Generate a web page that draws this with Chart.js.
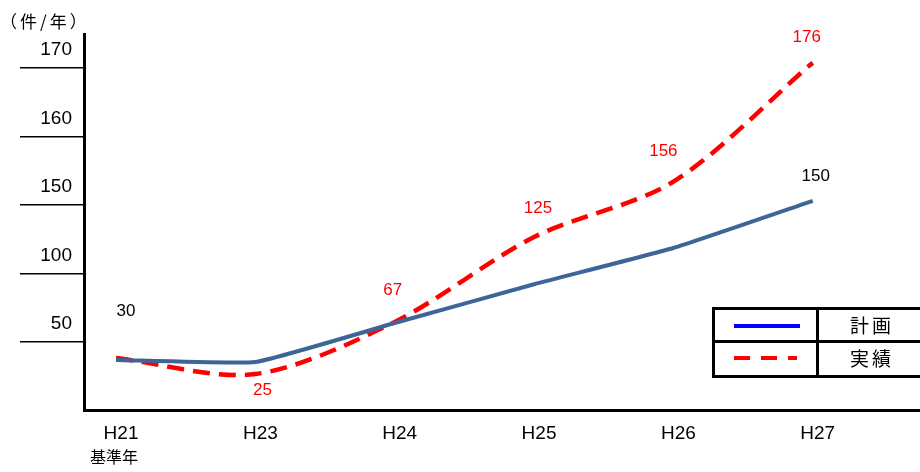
<!DOCTYPE html>
<html lang="ja">
<head>
<meta charset="utf-8">
<title>計画と実績</title>
<script src="https://cdn.jsdelivr.net/npm/chart.js@4.4.1/dist/chart.umd.min.js"></script>
<style>
  html, body { margin: 0; padding: 0; background: #fff; }
  #wrap { position: relative; width: 920px; height: 472px; }
</style>
</head>
<body>
<div id="wrap"><canvas id="chart"></canvas></div>
<script>
// categories
const years = ['H21', 'H23', 'H24', 'H25', 'H26', 'H27']

// 計画 - plotted values read against the drawn axis, and the printed numbers
const planValues = [36.6, 35.1, 63.6, 92, 118.5, 150.6]
const planLabels = ['30', null, null, null, null, '150']

// 実績
const actualValues = [38, 26.3, 64.4, 126.5, 153.4, 170.8]
const actualLabels = [null, '25', '67', '125', '156', '176']

// the y axis puts these values at equal spacing (broken axis)
const yAxisSteps = [0, 50, 100, 150, 160, 170]
const yTickValues = [50, 100, 150, 160, 170]
const yMax = 175

const FONT = '"Liberation Sans", "Noto Sans CJK JP", sans-serif'
const CJK = '"Noto Sans CJK JP", sans-serif'

function toStep (v) {
  const s = yAxisSteps
  for (let i = 0; i < s.length - 1; i++) {
    if (v <= s[i + 1]) return i + (v - s[i]) / (s[i + 1] - s[i])
  }
  const last = s.length - 1
  return last + (v - s[last]) / (s[last] - s[last - 1])
}

function fromStep (t) {
  const s = yAxisSteps
  const i = Math.max(0, Math.min(s.length - 2, Math.floor(t)))
  return s[i] + (t - i) * (s[i + 1] - s[i])
}

// linear scale whose labelled values sit at equal distances
class SegmentScale extends Chart.LinearScale {
  buildTicks () {
    return yTickValues.map(v => ({ value: v }))
  }
  getPixelForValue (v) {
    return this.getPixelForDecimal(toStep(v) / toStep(this.max))
  }
  getValueForPixel (p) {
    return fromStep(this.getDecimalForPixel(p) * toStep(this.max))
  }
}
SegmentScale.id = 'segment'
SegmentScale.defaults = Chart.LinearScale.defaults
Chart.register(SegmentScale)

const pointsFrom = values => values.map((y, i) => ({ x: i, y }))

// printed numbers next to the points
const valueLabels = {
  id: 'valueLabels',
  afterDatasetsDraw (chart, args, opts) {
    const ctx = chart.ctx
    ctx.save()
    ctx.font = '17px ' + FONT
    ctx.textAlign = 'center'
    ctx.textBaseline = 'middle'
    opts.sets.forEach((set, di) => {
      const meta = chart.getDatasetMeta(di)
      set.labels.forEach((txt, i) => {
        if (!txt) return
        const pt = meta.data[i]
        ctx.fillStyle = set.color
        ctx.fillText(txt, pt.x + set.offsets[i][0], pt.y + set.offsets[i][1])
      })
    })
    ctx.restore()
  }
}

// unit, base-year note and the boxed legend
const decor = {
  id: 'decor',
  afterDraw (chart) {
    const ctx = chart.ctx
    const x0 = chart.scales.x.getPixelForValue(0)
    ctx.save()
    ctx.fillStyle = '#000'
    ctx.textBaseline = 'middle'
    ctx.font = '17px ' + CJK
    ctx.letterSpacing = '3px'
    ctx.fillText('（件/年）', 0, 22)
    ctx.letterSpacing = '0px'
    ctx.textAlign = 'center'
    ctx.font = '16px ' + CJK
    ctx.fillText('基準年', x0 - 2, 457)

    // legend table
    ctx.strokeStyle = '#000'
    ctx.lineWidth = 3
    ctx.strokeRect(713.5, 308.5, 212, 68)
    ctx.beginPath()
    ctx.moveTo(713.5, 341.5); ctx.lineTo(925, 341.5)
    ctx.moveTo(817.5, 308.5); ctx.lineTo(817.5, 376.5)
    ctx.stroke()

    ctx.lineWidth = 4
    ctx.strokeStyle = '#0000ff'
    ctx.beginPath(); ctx.moveTo(734, 326); ctx.lineTo(800, 326); ctx.stroke()
    ctx.strokeStyle = '#ff0000'
    ctx.setLineDash([16, 11])
    ctx.beginPath(); ctx.moveTo(734, 358); ctx.lineTo(797, 358); ctx.stroke()
    ctx.setLineDash([])

    ctx.font = '19px ' + CJK
    ctx.letterSpacing = '3px'
    ctx.fillText('計画', 872, 326)
    ctx.fillText('実績', 872, 359)
    ctx.restore()
  }
}

Chart.defaults.font.family = FONT
Chart.defaults.color = '#000'

new Chart(document.getElementById('chart'), {
  type: 'line',
  data: {
    datasets: [
      {
        label: '計画',
        data: pointsFrom(planValues),
        borderColor: '#3d6598',
        borderWidth: 4,
        tension: 0.12,
        pointRadius: 0
      },
      {
        label: '実績',
        data: pointsFrom(actualValues),
        borderColor: '#ff0000',
        borderWidth: 4.5,
        borderDash: [17, 9],
        tension: 0.3,
        pointRadius: 0
      }
    ]
  },
  options: {
    responsive: true,
    maintainAspectRatio: false,
    animation: false,
    layout: { padding: { top: 34, left: 0, right: 0, bottom: 0 } },
    plugins: {
      legend: { display: false },
      tooltip: { enabled: false },
      valueLabels: {
        sets: [
          { labels: planLabels, color: '#000', offsets: [[10, -49], [0, 0], [0, 0], [0, 0], [0, 0], [3, -24]] },
          { labels: actualLabels, color: '#ff0000', offsets: [[0, 0], [7, 16], [-2, -32], [4, -29], [-10, -30], [-6, -25]] }
        ]
      }
    },
    scales: {
      x: {
        type: 'linear',
        min: -0.23,
        max: 5.77,
        afterBuildTicks: scale => { scale.ticks = years.map((_, i) => ({ value: i })) },
        afterFit: scale => { scale.height = 62 },
        grid: { display: false },
        border: { display: true, color: '#000', width: 3 },
        ticks: {
          callback: v => years[v],
          font: { size: 19 },
          padding: 4,
          labelOffset: 5,
          maxRotation: 0,
          autoSkip: false
        }
      },
      y: {
        type: 'segment',
        min: 0,
        max: yMax,
        afterFit: scale => { scale.width = 84 },
        grid: { drawOnChartArea: false, drawTicks: true, tickLength: 64, color: '#000', lineWidth: 1.5 },
        border: { display: true, color: '#000', width: 3 },
        ticks: {
          callback: v => String(v),
          font: { size: 19 },
          padding: -52,
          labelOffset: -18
        }
      }
    }
  },
  plugins: [valueLabels, decor]
})
</script>
</body>
</html>
